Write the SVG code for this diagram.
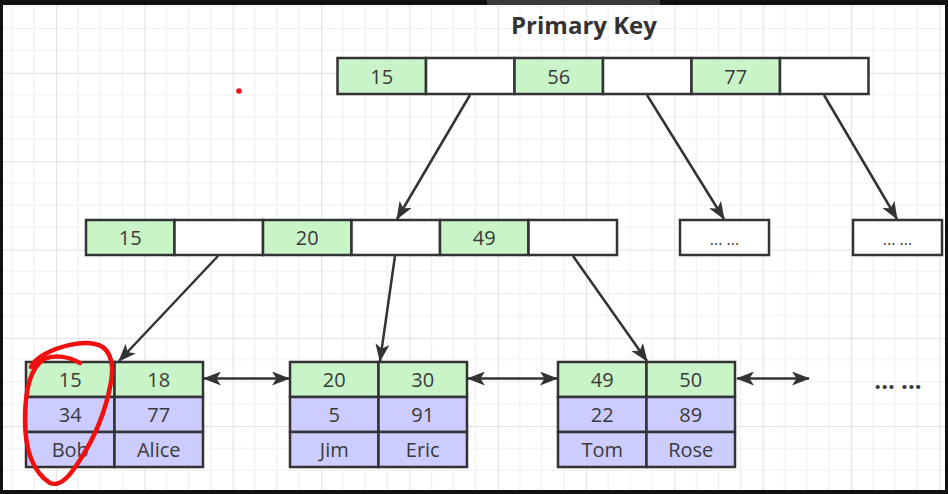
<svg xmlns="http://www.w3.org/2000/svg" width="948" height="494" viewBox="0 0 948 494">
<defs>
<style>
.k{fill:#c8f4c8;stroke:#333;stroke-width:2.5}
.e{fill:#ffffff;stroke:#333;stroke-width:2.5}
.d{fill:#ccccff;stroke:#333;stroke-width:2.5}
.t{font-family:"Open Sans","Noto Sans",sans-serif;font-size:20px;fill:#3a3a3a;text-anchor:middle}
.c{stroke:#333;stroke-width:2.5;fill:none}
</style>
<pattern id="grid" patternUnits="userSpaceOnUse" x="56" y="72.7" width="88.33" height="88.33">
<path d="M22.08 0V88.33M44.17 0V88.33M66.25 0V88.33M0 22.08H88.33M0 44.17H88.33M0 66.25H88.33" stroke="#efefef" stroke-width="1.2" fill="none"/>
<path d="M0.6 0V88.33M0 0.6H88.33" stroke="#e4e4e4" stroke-width="1.2" fill="none"/>
</pattern>
<marker id="ah" viewBox="0 0 18 14" refX="17" refY="7" markerWidth="18" markerHeight="14" markerUnits="userSpaceOnUse" orient="auto-start-reverse">
<path d="M0,0 L18,7 L0,14 L4.5,7 z" fill="#333"/>
</marker>
</defs>
<rect x="0" y="0" width="948" height="494" fill="#111"/>
<rect x="487" y="0" width="173" height="5" fill="#3a3a3a"/>
<rect x="3" y="5" width="942" height="485" fill="#fff"/>
<rect x="3" y="5" width="942" height="485" fill="url(#grid)"/>

<text x="584" y="34" style="font-family:'Open Sans','Noto Sans',sans-serif;font-size:24px;font-weight:bold;fill:#333;text-anchor:middle">Primary Key</text>

<g id="root">
<rect class="k" x="337.5" y="58" width="88.5" height="36"/>
<rect class="e" x="426" y="58" width="88.5" height="36"/>
<rect class="k" x="514.5" y="58" width="88.5" height="36"/>
<rect class="e" x="603" y="58" width="88.5" height="36"/>
<rect class="k" x="691.5" y="58" width="88.5" height="36"/>
<rect class="e" x="780" y="58" width="88.5" height="36"/>
<text class="t" x="381.75" y="83.5">15</text>
<text class="t" x="558.75" y="83.5">56</text>
<text class="t" x="735.75" y="83.5">77</text>
</g>

<g id="inner">
<rect class="k" x="86" y="220" width="88.5" height="35"/>
<rect class="e" x="174.5" y="220" width="88.5" height="35"/>
<rect class="k" x="263" y="220" width="88.5" height="35"/>
<rect class="e" x="351.5" y="220" width="88.5" height="35"/>
<rect class="k" x="440" y="220" width="88.5" height="35"/>
<rect class="e" x="528.5" y="220" width="88.5" height="35"/>
<text class="t" x="130.25" y="245">15</text>
<text class="t" x="307.25" y="245">20</text>
<text class="t" x="484.25" y="245">49</text>
</g>

<g id="more1">
<rect class="e" x="680" y="220" width="89" height="35"/>
<text class="t" x="724.5" y="245" style="font-size:16px">... ...</text>
</g>
<g id="more2">
<rect class="e" x="853" y="220" width="89" height="35"/>
<text class="t" x="897.5" y="245" style="font-size:16px">... ...</text>
</g>

<g id="leaf1">
<rect class="k" x="26" y="362" width="88.5" height="35"/>
<rect class="k" x="114.5" y="362" width="88.5" height="35"/>
<rect class="d" x="26" y="397" width="88.5" height="35"/>
<rect class="d" x="114.5" y="397" width="88.5" height="35"/>
<rect class="d" x="26" y="432" width="88.5" height="35"/>
<rect class="d" x="114.5" y="432" width="88.5" height="35"/>
<text class="t" x="70.25" y="387">15</text>
<text class="t" x="158.75" y="387">18</text>
<text class="t" x="70.25" y="422">34</text>
<text class="t" x="158.75" y="422">77</text>
<text class="t" x="70.25" y="457">Bob</text>
<text class="t" x="158.75" y="457">Alice</text>
</g>

<g id="leaf2">
<rect class="k" x="290" y="362" width="88.5" height="35"/>
<rect class="k" x="378.5" y="362" width="88.5" height="35"/>
<rect class="d" x="290" y="397" width="88.5" height="35"/>
<rect class="d" x="378.5" y="397" width="88.5" height="35"/>
<rect class="d" x="290" y="432" width="88.5" height="35"/>
<rect class="d" x="378.5" y="432" width="88.5" height="35"/>
<text class="t" x="334.25" y="387">20</text>
<text class="t" x="422.75" y="387">30</text>
<text class="t" x="334.25" y="422">5</text>
<text class="t" x="422.75" y="422">91</text>
<text class="t" x="334.25" y="457">Jim</text>
<text class="t" x="422.75" y="457">Eric</text>
</g>

<g id="leaf3">
<rect class="k" x="558" y="362" width="88.5" height="35"/>
<rect class="k" x="646.5" y="362" width="88.5" height="35"/>
<rect class="d" x="558" y="397" width="88.5" height="35"/>
<rect class="d" x="646.5" y="397" width="88.5" height="35"/>
<rect class="d" x="558" y="432" width="88.5" height="35"/>
<rect class="d" x="646.5" y="432" width="88.5" height="35"/>
<text class="t" x="602.25" y="387">49</text>
<text class="t" x="690.75" y="387">50</text>
<text class="t" x="602.25" y="422">22</text>
<text class="t" x="690.75" y="422">89</text>
<text class="t" x="602.25" y="457">Tom</text>
<text class="t" x="690.75" y="457">Rose</text>
</g>

<g id="more3">
<text class="t" x="898" y="389" style="font-size:24px;font-weight:bold">... ...</text>
</g>

<g id="connectors">
<line class="c" x1="470" y1="95" x2="397" y2="219" marker-end="url(#ah)"/>
<line class="c" x1="647" y1="95" x2="724" y2="219" marker-end="url(#ah)"/>
<line class="c" x1="824" y1="95" x2="897" y2="219" marker-end="url(#ah)"/>
<line class="c" x1="218" y1="256" x2="119" y2="361" marker-end="url(#ah)"/>
<line class="c" x1="395" y1="256" x2="380" y2="361" marker-end="url(#ah)"/>
<line class="c" x1="573" y1="256" x2="647" y2="361" marker-end="url(#ah)"/>
<line class="c" x1="204" y1="378.5" x2="289" y2="378.5" marker-start="url(#ah)" marker-end="url(#ah)"/>
<line class="c" x1="468" y1="378.5" x2="557" y2="378.5" marker-start="url(#ah)" marker-end="url(#ah)"/>
<line class="c" x1="737" y1="378.5" x2="809" y2="378.5" marker-start="url(#ah)" marker-end="url(#ah)"/>
</g>

<circle cx="239" cy="91" r="2.8" fill="#f01010"/>
<path d="M80 363 C70 357 55 354 44 359 C30 368 25 390 25 420 C25 450 33 472 50 483 C62 488 72 472 80 460 C95 437 106 410 111 382 C115 360 108 346 95 344 C80 341 60 346 45 354 C38 358 33 362 31 367" fill="none" stroke="#f01010" stroke-width="4.5" stroke-linecap="round" stroke-linejoin="round"/>
</svg>
